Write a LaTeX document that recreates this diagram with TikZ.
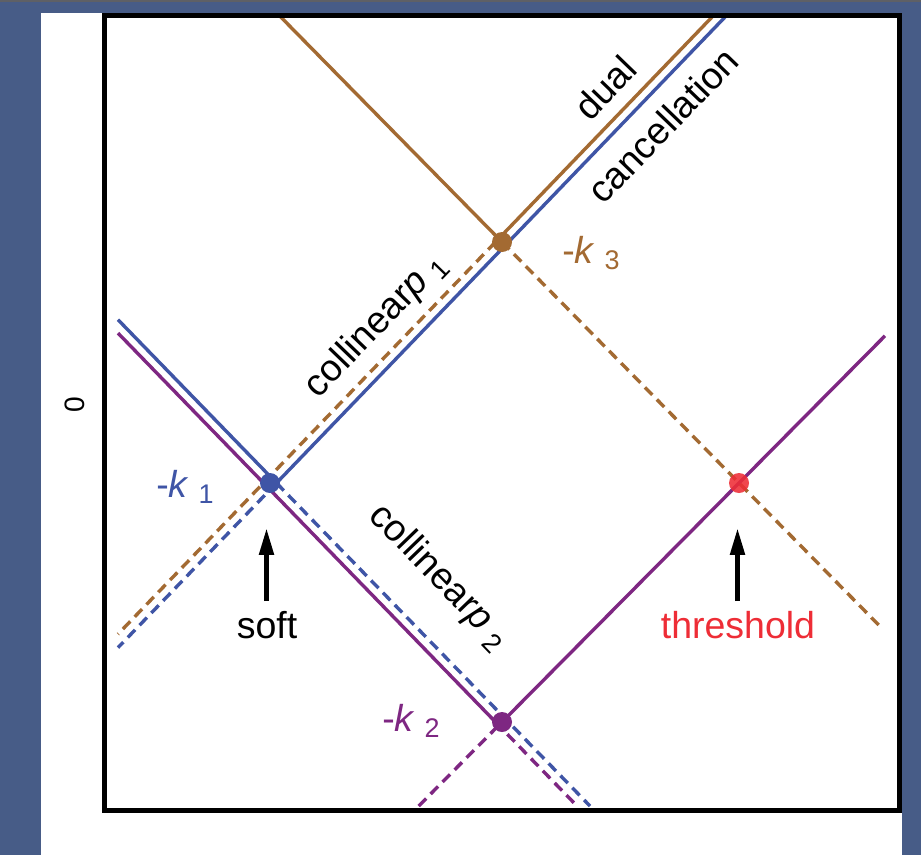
\documentclass[tikz,border=0pt]{standalone}
\usepackage{fontspec}
\setmainfont{Liberation Sans}
\usetikzlibrary{arrows.meta}

\definecolor{pagebg}{HTML}{475C87}
\definecolor{topline}{HTML}{5E6066}
\definecolor{brn}{HTML}{A36A32}
\definecolor{blu}{HTML}{3F55A6}
\definecolor{prp}{HTML}{7E2782}
\definecolor{redd}{HTML}{EE2D36}

% subscript index set smaller, spaced and lowered
\newcommand{\idx}[1]{\hspace{0.25em}\raisebox{-0.18em}{\fontsize{23}{27}\selectfont #1}}

\begin{document}
\begin{tikzpicture}[x=0.03cm,y=-0.03cm,
  curve/.style={line width=2.9pt},
  dashedcurve/.style={line width=2.9pt,dash pattern=on 9pt off 5.5pt},
  dotmark/.style={circle,inner sep=0pt,minimum size=0.6cm},
  lab/.style={font=\fontsize{32}{38}\selectfont,inner sep=0pt},
  arr/.style={line width=4.2pt,-{Triangle[length=23pt,width=12pt]}}]

% page and frame area
\fill[pagebg] (0,0) rectangle (921,855);
\fill[topline] (0,0) rectangle (921,2);
\fill[white] (41,12.5) rectangle (902,855);

% corner points of the diamond
\coordinate (B1) at (270,483);
\coordinate (B3) at (502,242);
\coordinate (B2) at (502,722);
\coordinate (R)  at (739,483);

% ends and break points of the lines
\coordinate (brTop) at (713.5,15.5);
\coordinate (brMid) at (495.5,242);
\coordinate (brLow) at (118,634.1);
\coordinate (buTop) at (726.5,15.5);
\coordinate (buMid) at (276.5,483);
\coordinate (buLow) at (118,647.6);
\coordinate (bfLeft) at (118,319.7);
\coordinate (bfMid)  at (276.5,483);
\coordinate (bfBot)  at (590,806);
\coordinate (pfLeft) at (118,333.1);
\coordinate (pfMid)  at (495.5,722);
\coordinate (pfBot)  at (577,806);
\coordinate (prBot)  at (418.7,806);
\coordinate (prTop)  at (885,335.8);
\coordinate (bdTop)  at (279.3,15.5);
\coordinate (bdEnd)  at (883,629.4);

% brown line through -k3 falling to the right
\draw[curve,brn] (bdTop) -- (B3);
\draw[dashedcurve,brn] (B3) -- (bdEnd);
% purple line rising through -k2 and the threshold point
\draw[dashedcurve,prp] (prBot) -- (B2);
\draw[curve,prp] (B2) -- (prTop);
% pair of falling lines (blue over purple)
\draw[curve,prp] (pfLeft) -- (pfMid);
\draw[dashedcurve,prp] (pfMid) -- (pfBot);
\draw[curve,blu] (bfLeft) -- (bfMid);
\draw[dashedcurve,blu] (bfMid) -- (bfBot);
% pair of rising lines (brown over blue)
\draw[curve,brn] (brTop) -- (brMid);
\draw[dashedcurve,brn] (brMid) -- (brLow);
\draw[curve,blu] (buTop) -- (buMid);
\draw[dashedcurve,blu] (buMid) -- (buLow);

% singular points
\node[dotmark,fill=brn] (k3) at (B3) {};
\node[dotmark,fill=blu] (k1) at (B1) {};
\node[dotmark,fill=prp] (k2) at (B2) {};
\node[dotmark,fill=redd,fill opacity=0.88] (th) at (R) {};

% frame
\draw[line width=4.25pt] (104.5,15.5) rectangle (899,810);

% labels
\node[lab,rotate=46] (dual) at (605,88) {dual};
\node[lab,rotate=46] (canc) at (663,125) {cancellation};
\node[lab,rotate=46] (col1) at (376,326) {collinear\textit{p}\idx{1}};
\node[lab,rotate=-46] (col2) at (439,577) {collinear\textit{p}\idx{2}};
\node[lab,anchor=base,text=brn] (lk3) at (591,263) {-\textit{k}\idx{3}};
\node[lab,anchor=base,text=blu] (lk1) at (185,497) {-\textit{k}\idx{1}};
\node[lab,anchor=base,text=prp] (lk2) at (411,731) {-\textit{k}\idx{2}};
\node[font=\fontsize{24}{28}\selectfont,rotate=90,inner sep=0pt] (zero) at (75,405) {0};

% arrows to the soft and threshold points
\coordinate (softTail) at (266.5,601);
\coordinate (softTip)  at (266.5,528);
\coordinate (thTail)   at (737.5,601);
\coordinate (thTip)    at (737.5,528);
\draw[arr] (softTail) -- (softTip);
\draw[arr] (thTail) -- (thTip);
\node[lab] (soft) at (267,625) {soft};
\node[lab,text=redd] (thr) at (738,625) {threshold};
\end{tikzpicture}
\end{document}
